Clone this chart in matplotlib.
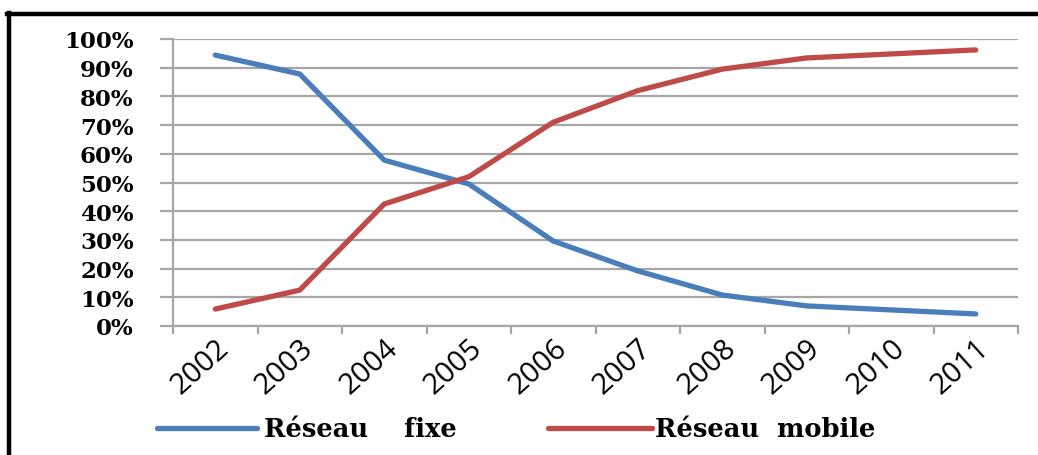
import matplotlib
matplotlib.use("Agg")
import matplotlib.pyplot as plt
from matplotlib.lines import Line2D
import matplotlib.transforms as mtransforms
import numpy as np

years = ["2002", "2003", "2004", "2005", "2006", "2007", "2008", "2009", "2010", "2011"]
fixe = [94.4, 87.8, 57.8, 49.5, 29.6, 19.2, 10.8, 7.0, 5.6, 4.2]
mobile = [5.9, 12.5, 42.5, 52.0, 71.0, 82.0, 89.5, 93.4, 94.8, 96.2]
yticks = [0, 10, 20, 30, 40, 50, 60, 70, 80, 90, 100]
ytick_labels = ["0%", "10%", "20%", "30%", "40%", "50%", "60%", "70%", "80%", "90%", "100%"]
labels = ["Réseau    fixe", "Réseau  mobile"]

blue = "#4A7EBB"
red = "#BE4B48"
grid = "#A6A6A6"

fig = plt.figure(figsize=(10.38, 4.56), dpi=100)
ax = fig.add_axes([173/1038, 1-327/456, (1018-173)/1038, (327-40)/456])

x = np.arange(len(years))
l1, = ax.plot(x, fixe, color=blue, lw=3.8, solid_capstyle="round", solid_joinstyle="round")
l2, = ax.plot(x, mobile, color=red, lw=3.8, solid_capstyle="round", solid_joinstyle="round")

ax.set_xlim(-0.5, len(years)-0.5)
ax.set_ylim(0, 100)
ax.set_yticks(yticks)
ax.set_yticklabels(ytick_labels, fontfamily="DejaVu Serif", fontweight="bold", fontsize=16.5)
ax.yaxis.grid(True, color=grid, lw=1.6)
ax.set_axisbelow(True)

ax.set_xticks(x)
ax.set_xticklabels(years, rotation=42, ha="right", va="top", rotation_mode="anchor",
                   fontfamily="Open Sans", fontsize=21)
offset = mtransforms.ScaledTranslation(-11/100, 0, fig.dpi_scale_trans)
for lab in ax.get_xticklabels():
    lab.set_transform(lab.get_transform() + offset)
ax.set_xticks(np.arange(-0.5, len(years)), minor=True)
ax.tick_params(axis="x", which="major", length=0, pad=5)
ax.tick_params(axis="x", which="minor", length=6, width=1.6, color=grid, direction="out")
ax.tick_params(axis="y", length=9.4, width=1.6, color=grid, pad=19)

for s in ["top", "right"]:
    ax.spines[s].set_visible(False)
ax.spines["left"].set_color(grid)
ax.spines["left"].set_linewidth(1.6)
ax.spines["bottom"].set_color(grid)
ax.spines["bottom"].set_linewidth(1.6)

legprop = {"family": "DejaVu Serif", "weight": "bold", "size": 18.5}
ly = 1 - 430/456
leg1 = fig.legend([l1], [labels[0]], loc="center left", bbox_to_anchor=(157/1038, ly),
                  frameon=False, handlelength=3.9, handletextpad=0.25, borderpad=0,
                  borderaxespad=0, prop=legprop)
leg2 = fig.legend([l2], [labels[1]], loc="center left", bbox_to_anchor=(548/1038, ly),
                  frameon=False, handlelength=4.05, handletextpad=0.1, borderpad=0,
                  borderaxespad=0, prop=legprop)

# outer frame (top and left border)
fig.add_artist(Line2D([8.5/1038, 8.5/1038], [0, 1-14/456], transform=fig.transFigure, color="black", lw=3.2))
fig.add_artist(Line2D([7/1038, 1], [1-15/456, 1-15/456], transform=fig.transFigure, color="black", lw=3.2))

fig.savefig("out.png", dpi=100)
